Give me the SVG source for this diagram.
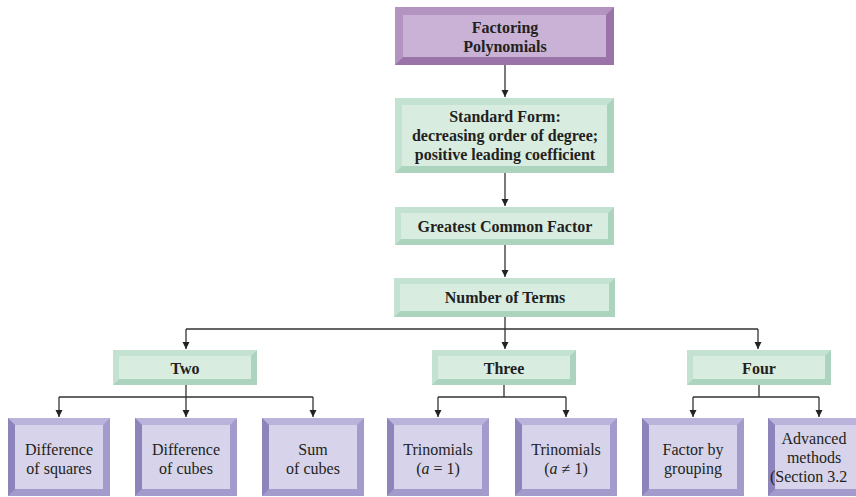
<svg xmlns="http://www.w3.org/2000/svg" xmlns:xlink="http://www.w3.org/1999/xlink" width="856" height="497" viewBox="0 0 856 497">
<style>
.t text{fill:#231f20;text-anchor:middle;font-size:16px}
.b{font-weight:bold}
.gO{fill:#acd3bd}.gL{fill:#c4e2d1}.gI{fill:#d8ece0}
.pO{fill:#9a74a9}.pL{fill:#b393c0}.pI{fill:#c9b2d5}
.vO{fill:#a39bcb}.vL{fill:#8c84bb}.vT{fill:#bab4dc}.vI{fill:#d6d3ea}
.c path{fill:none;stroke:#333;stroke-width:1.3}
</style>
<defs>
<marker id="ah" markerWidth="8" markerHeight="8" refX="7" refY="3.5" orient="auto" markerUnits="userSpaceOnUse">
<path d="M0,0 L7,3.5 L0,7 z" fill="#222"/>
</marker>
<g id="sbox">
<rect class="gO" width="144" height="35"/>
<polygon class="gL" points="0,0 144,0 138,6 6,6 6,29 0,35"/>
<rect class="gI" x="6" y="6" width="132" height="23"/>
</g>
<g id="bbox">
<rect class="vO" width="102" height="78"/>
<polygon class="vT" points="0,0 102,0 95,7 7,7"/>
<polygon class="vL" points="0,0 7,7 7,71 0,78"/>
<rect class="vI" x="7" y="7" width="88" height="64"/>
</g>
</defs>

<g class="c" id="connectors">
<path d="M505,65 V97" marker-end="url(#ah)"/>
<path d="M505,173 V206" marker-end="url(#ah)"/>
<path d="M505,245 V277" marker-end="url(#ah)"/>
<path d="M505,317 V329 M186,329 H758"/>
<path d="M186,329 V349" marker-end="url(#ah)"/>
<path d="M505,329 V349" marker-end="url(#ah)"/>
<path d="M758,329 V349" marker-end="url(#ah)"/>
<path d="M186,385 V397 M59,397 H313"/>
<path d="M59,397 V417" marker-end="url(#ah)"/>
<path d="M186,397 V417" marker-end="url(#ah)"/>
<path d="M313,397 V417" marker-end="url(#ah)"/>
<path d="M504,385 V397 M438,397 H566"/>
<path d="M438,397 V417" marker-end="url(#ah)"/>
<path d="M566,397 V417" marker-end="url(#ah)"/>
<path d="M759,385 V397 M693,397 H819"/>
<path d="M693,397 V417" marker-end="url(#ah)"/>
<path d="M819,397 V417" marker-end="url(#ah)"/>
</g>

<g class="t" font-family="'Liberation Serif', 'Times New Roman', 'DejaVu Serif', serif">
<g id="n-factoring">
<rect class="pO" x="395" y="7" width="219" height="58"/>
<polygon class="pL" points="395,7 614,7 606,15 403,15 403,57 395,65"/>
<rect class="pI" x="403" y="15" width="203" height="42"/>
<text class="b" x="505" y="33">Factoring</text>
<text class="b" x="505" y="52">Polynomials</text>
</g>

<g id="n-standard">
<rect class="gO" x="395" y="98" width="219" height="75"/>
<polygon class="gL" points="395,98 614,98 607,105 402,105 402,166 395,173"/>
<rect class="gI" x="402" y="105" width="205" height="61"/>
<text class="b" x="505" y="122">Standard Form:</text>
<text class="b" x="505" y="141">decreasing order of degree;</text>
<text class="b" x="505" y="160">positive leading coefficient</text>
</g>

<g id="n-gcf">
<rect class="gO" x="395" y="207" width="219" height="38"/>
<polygon class="gL" points="395,207 614,207 608,213 401,213 401,239 395,245"/>
<rect class="gI" x="401" y="213" width="207" height="26"/>
<text class="b" x="505" y="232">Greatest Common Factor</text>
</g>

<g id="n-terms">
<rect class="gO" x="394" y="278" width="221" height="39"/>
<polygon class="gL" points="394,278 615,278 609,284 400,284 400,311 394,317"/>
<rect class="gI" x="400" y="284" width="209" height="27"/>
<text class="b" x="505" y="303">Number of Terms</text>
</g>

<g id="n-two"><use xlink:href="#sbox" x="113" y="350"/><text class="b" x="185" y="374">Two</text></g>
<g id="n-three"><use xlink:href="#sbox" x="432" y="350"/><text class="b" x="504" y="374">Three</text></g>
<g id="n-four"><use xlink:href="#sbox" x="687" y="350"/><text class="b" x="759" y="374">Four</text></g>

<g id="n-diffsq"><use xlink:href="#bbox" x="8" y="418"/><text x="59" y="455">Difference</text><text x="59" y="474">of squares</text></g>
<g id="n-diffcu"><use xlink:href="#bbox" x="135" y="418"/><text x="186" y="455">Difference</text><text x="186" y="474">of cubes</text></g>
<g id="n-sumcu"><use xlink:href="#bbox" x="262" y="418"/><text x="313" y="455">Sum</text><text x="313" y="474">of cubes</text></g>
<g id="n-tri1"><use xlink:href="#bbox" x="387" y="418"/><text x="438" y="455">Trinomials</text><text x="438" y="474">(<tspan font-style="italic">a</tspan> = 1)</text></g>
<g id="n-tri2"><use xlink:href="#bbox" x="515" y="418"/><text x="566" y="455">Trinomials</text><text x="566" y="474">(<tspan font-style="italic">a</tspan> ≠ 1)</text></g>
<g id="n-group"><use xlink:href="#bbox" x="642" y="418"/><text x="693" y="455">Factor by</text><text x="693" y="474">grouping</text></g>
<g id="n-adv"><use xlink:href="#bbox" x="768" y="418"/><text x="814" y="444">Advanced</text><text x="814" y="463">methods</text><text x="770" y="482" style="text-anchor:start">(Section 3.2</text></g>
</g>
</svg>
